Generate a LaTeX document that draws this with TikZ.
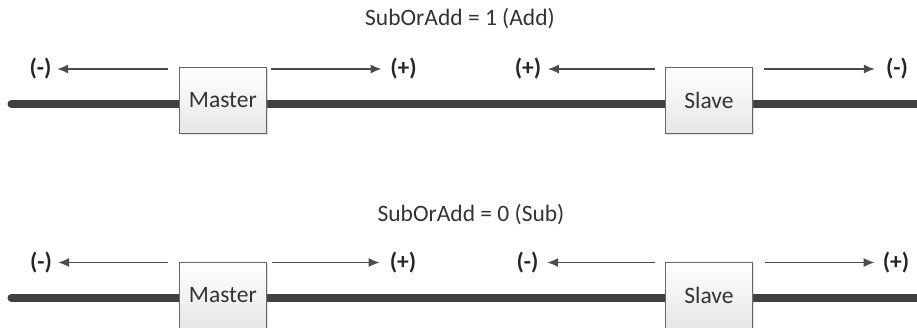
\documentclass[tikz,border=0pt]{standalone}
\usepackage{fontspec}
\setmainfont{Carlito}
\usetikzlibrary{arrows.meta,shadows,backgrounds}
\begin{document}
\begin{tikzpicture}[x=1pt,y=-1pt,
  font=\fontsize{23.5}{28}\selectfont,
  box/.style={draw=black!60, line width=1pt, top color=white, bottom color=black!10,
    minimum width=86.5pt, minimum height=65.6pt, inner sep=0pt, text=black!80,
    drop shadow={shadow xshift=1.5pt, shadow yshift=-1.5pt, opacity=0.25}},
  bus/.style={line width=8pt, draw=black!75, line cap=round},
  arr/.style={draw=black!70, line width=1.5pt, -{Latex[length=11pt,width=9pt]}},
  lbl/.style={font=\fontsize{23.5}{28}\selectfont\bfseries, text=black!85, inner sep=0pt},
  ttl/.style={text=black!80, inner sep=0pt}]
\clip (0,0) rectangle (917,327);
% ---------- top: SubOrAdd = 1 ----------
\node[ttl] (t1) at (460,18.3) {SubOrAdd = 1 (Add)};
\node[box] (m1) at (222.8,100.5) {Master};
\node[box] (s1) at (709,100.5) {Slave};
\coordinate (bl1) at (11.5,104);
\coordinate (br1) at (935,104);
\begin{scope}[on background layer]
  \draw[bus] (bl1) -- (m1.west|-bl1);
  \draw[bus] (m1.east|-bl1) -- (s1.west|-bl1);
  \draw[bus] (s1.east|-bl1) -- (br1);
\end{scope}
\node[lbl] (m1l) at (40.5,69) {(-)};
\node[lbl] (m1r) at (403.5,69) {(+)};
\node[lbl] (s1l) at (528,69) {(+)};
\node[lbl] (s1r) at (897,69) {(-)};
\coordinate (m1a) at (168,69);
\coordinate (m1b) at (271,69);
\coordinate (s1a) at (655,69);
\coordinate (s1b) at (764,69);
\draw[arr, shorten >=5.5pt] (m1a) -- (m1l);
\draw[arr, shorten >=8.5pt] (m1b) -- (m1r);
\draw[arr, shorten >=6.5pt] (s1a) -- (s1l);
\draw[arr, shorten >=11pt] (s1b) -- (s1r);
% ---------- bottom: SubOrAdd = 0 ----------
\node[ttl] (t2) at (471,215) {SubOrAdd = 0 (Sub)};
\node[box] (m2) at (222.8,295.5) {Master};
\node[box] (s2) at (709,295.5) {Slave};
\coordinate (bl2) at (11.5,297.5);
\coordinate (br2) at (935,297.5);
\begin{scope}[on background layer]
  \draw[bus] (bl2) -- (m2.west|-bl2);
  \draw[bus] (m2.east|-bl2) -- (s2.west|-bl2);
  \draw[bus] (s2.east|-bl2) -- (br2);
\end{scope}
\node[lbl] (m2l) at (41,262.5) {(-)};
\node[lbl] (m2r) at (403,262.5) {(+)};
\node[lbl] (s2l) at (527.5,262.5) {(-)};
\node[lbl] (s2r) at (896,262.5) {(+)};
\coordinate (m2a) at (168,262.5);
\coordinate (m2b) at (272,262.5);
\coordinate (s2a) at (655,262.5);
\coordinate (s2b) at (765,262.5);
\draw[arr, shorten >=6pt] (m2a) -- (m2l);
\draw[arr, shorten >=10pt] (m2b) -- (m2r);
\draw[arr, shorten >=8.5pt] (s2a) -- (s2l);
\draw[arr, shorten >=8pt] (s2b) -- (s2r);
\end{tikzpicture}
\end{document}
